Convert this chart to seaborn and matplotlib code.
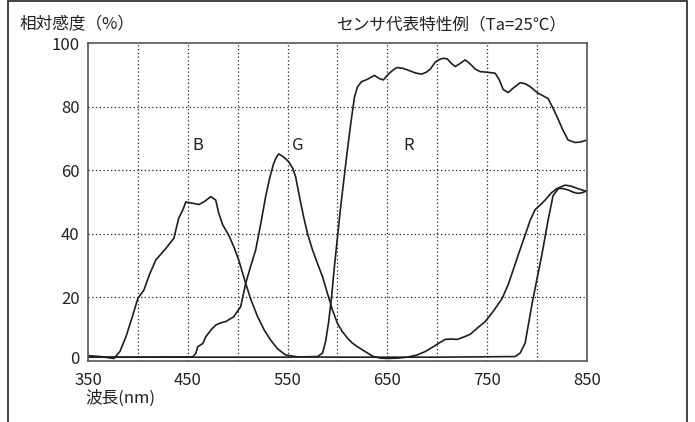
import matplotlib.pyplot as plt
import pandas as pd
import seaborn as sns
from matplotlib.patches import Rectangle
from matplotlib.transforms import ScaledTranslation

# wavelength (nm) / relative sensitivity (%)
b_wl = [350, 362, 376, 382, 388, 394, 400, 406, 412, 418, 428, 436, 441, 445, 448, 455,
        461, 467, 473, 478, 481, 485, 491, 496, 501, 508, 513, 520, 527, 533, 540, 548,
        560, 600, 700, 778, 783, 788, 795, 800, 805, 811, 816, 822, 828, 834, 840, 845, 850]
b_val = [1.7, 1.4, 0.8, 3.0, 7.6, 13.5, 19.7, 22.3, 27.5, 31.8, 35.4, 38.6, 45.0, 47.5, 50.0, 49.6,
         49.2, 50.2, 51.7, 50.6, 46.5, 42.8, 39.6, 36.0, 31.8, 24.4, 19.5, 13.9, 9.5, 6.6, 3.8, 1.9,
         1.3, 1.2, 1.2, 1.4, 2.5, 5.6, 18.1, 26.0, 33.8, 44.3, 52.0, 54.5, 55.3, 55.0, 54.3, 53.8, 53.2]

g_wl = [350, 400, 455, 458, 460, 465, 468, 473, 478, 483, 488, 496, 503, 508, 513, 518,
        523, 528, 532, 536, 539, 541, 544, 548, 551, 555, 558, 562, 566, 570, 575, 580,
        585, 590, 595, 600, 605, 610, 615, 620, 628, 636, 643, 650, 660, 670, 680, 688,
        696, 702, 708, 714, 720, 727, 733, 741, 748, 756, 765, 771, 776, 782, 788, 793,
        798, 803, 808, 814, 820, 826, 831, 836, 841, 846, 850]
g_val = [1.2, 1.2, 1.3, 2.4, 4.5, 5.5, 7.6, 9.7, 11.3, 12.0, 12.4, 13.9, 17.1, 24.4, 29.8, 34.9,
         43.0, 51.7, 57.5, 62.1, 64.2, 65.1, 64.6, 63.6, 62.7, 60.7, 58.0, 51.5, 45.4, 40.0, 34.9, 30.6,
         26.5, 21.2, 16.0, 11.8, 9.2, 7.2, 5.6, 4.5, 2.9, 1.4, 0.9, 0.8, 0.9, 1.2, 1.9, 3.0,
         4.5, 5.7, 6.8, 6.9, 6.8, 7.6, 8.4, 10.6, 12.4, 15.6, 19.7, 24.0, 28.6, 34.2, 39.6, 44.2,
         47.6, 49.0, 50.6, 52.8, 54.3, 54.2, 53.8, 53.1, 52.7, 53.0, 53.6]

r_wl = [350, 450, 550, 580, 585, 588, 591, 594, 597, 600, 603, 606, 609, 613, 617, 620,
        624, 630, 637, 642, 646, 651, 656, 660, 666, 672, 678, 684, 689, 693, 698, 702,
        706, 710, 714, 718, 723, 728, 733, 738, 743, 750, 758, 762, 766, 771, 776, 783,
        788, 793, 800, 806, 811, 816, 820, 826, 831, 838, 844, 850]
r_val = [1.2, 1.2, 1.2, 1.4, 2.5, 6.0, 12.0, 20.0, 30.0, 39.0, 48.0, 56.0, 64.0, 74.0, 83.0, 86.2,
         87.8, 88.6, 89.8, 88.8, 88.4, 90.2, 91.6, 92.3, 92.0, 91.3, 90.6, 90.2, 90.8, 91.8, 94.0, 94.8,
         95.2, 95.0, 93.6, 92.6, 93.6, 94.7, 93.4, 91.8, 91.0, 90.8, 90.5, 88.5, 85.4, 84.4, 85.8, 87.5,
         87.2, 86.3, 84.4, 83.4, 82.5, 79.5, 76.8, 72.5, 69.5, 68.7, 68.9, 69.5]

channels = ["B", "G", "R"]
label_wl = [460, 560, 671]
label_val = [67.9, 67.9, 67.9]

x_ticks = [350, 450, 550, 650, 750, 850]
x_grid = [400, 450, 500, 550, 600, 650, 700, 750, 800]
y_ticks = [0, 20, 40, 60, 80, 100]

df = pd.concat([
    pd.DataFrame({"wl": b_wl, "val": b_val, "ch": "B"}),
    pd.DataFrame({"wl": g_wl, "val": g_val, "ch": "G"}),
    pd.DataFrame({"wl": r_wl, "val": r_val, "ch": "R"}),
])

sns.set_style("white")
plt.rcParams["font.family"] = ["Noto Sans CJK JP", "DejaVu Sans"]

fig = plt.figure(figsize=(6.95, 4.22), dpi=100)
ax = fig.add_axes([88 / 695, 1 - 361 / 422, 499 / 695, 318 / 422])

sns.lineplot(
    data=df, x="wl", y="val", hue="ch", units="ch", estimator=None, sort=False,
    palette={c: "#1e1e1e" for c in channels}, linewidth=1.2, legend=False, ax=ax,
)

for x in x_grid:
    ax.axvline(x, color="#222222", linestyle=(0, (1, 2)), linewidth=0.9, zorder=0)
for y in y_ticks[1:-1]:
    ax.axhline(y, color="#222222", linestyle=(0, (1, 2)), linewidth=0.9, zorder=0)

ax.set_xlim(350, 850)
ax.set_ylim(0, 100)
ax.set_xticks(x_ticks)
ax.set_yticks(y_ticks)
ax.tick_params(length=0, labelsize=12, colors="#222222")
ax.tick_params(axis="x", pad=8)
ax.tick_params(axis="y", pad=6)
# the "0" label sits a little above the axis bottom in the reference
ylabels = ax.get_yticklabels()
ylabels[0].set_transform(ylabels[0].get_transform() + ScaledTranslation(0, 4 / 100, fig.dpi_scale_trans))
ax.set_xlabel("")
ax.set_ylabel("")
for spine in ax.spines.values():
    spine.set_color("#555555")
    spine.set_linewidth(1.2)

for c, x, y in zip(channels, label_wl, label_val):
    ax.text(x, y, c, fontsize=12, ha="center", va="center", color="#222222")

fig.text(20 / 695, 1 - 25 / 422, "相対感度（%）", fontsize=12, ha="left", va="center", color="#222222")
fig.text(452 / 695, 1 - 25 / 422, "センサ代表特性例（Ta=25℃）", fontsize=12, ha="center", va="center",
         color="#222222")
fig.text(85 / 695, 1 - 398 / 422, "波長(nm)", fontsize=12, ha="left", va="center", color="#222222")

# outer frame (open at the bottom)
fig.add_artist(Rectangle((8 / 695, -0.05), 679 / 695, 1.05 - 1.5 / 422, transform=fig.transFigure,
                         fill=False, edgecolor="#333333", linewidth=1.3))

fig.savefig("out.png", dpi=100)
